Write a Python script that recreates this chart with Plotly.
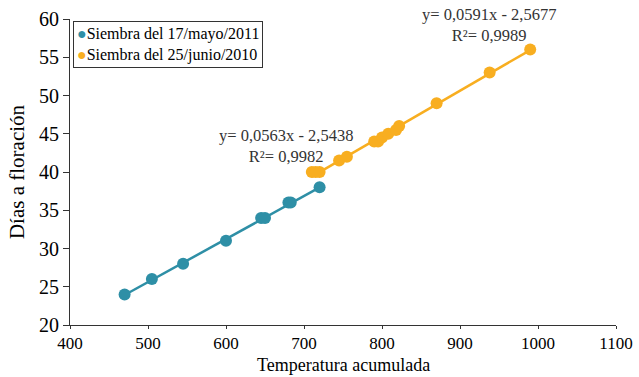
import plotly.graph_objects as go

# Data
x_2011 = [470, 505, 545, 600, 645, 650, 680, 683, 720]
y_2011 = [24, 26, 28, 31, 34, 34, 36, 36, 38]
x_2010 = [710, 715, 720, 745, 755, 790, 795, 800, 808, 818, 822, 870, 938, 990]
y_2010 = [40, 40, 40, 41.5, 42, 44, 44, 44.5, 45, 45.5, 46, 49, 53, 56]
fit_2011 = [0.0563, -2.5438]
fit_2010 = [0.0591, -2.5677]
names = ["Siembra del 17/mayo/2011", "Siembra del 25/junio/2010"]
eq_labels = ["y= 0,0563x - 2,5438<br>R²= 0,9982", "y= 0,0591x - 2,5677<br>R²= 0,9989"]
x_ticks = [400, 500, 600, 700, 800, 900, 1000, 1100]
y_ticks = [20, 25, 30, 35, 40, 45, 50, 55, 60]
x_title = "Temperatura acumulada"
y_title = "Días a floración"

c1 = "#2e8fa6"
c2 = "#f8ae20"
font = "Liberation Serif"

fig = go.Figure()
for xs, ys, fit, col, nm in [(x_2011, y_2011, fit_2011, c1, names[0]),
                             (x_2010, y_2010, fit_2010, c2, names[1])]:
    lx = [min(xs), max(xs)]
    ly = [fit[0] * v + fit[1] for v in lx]
    fig.add_trace(go.Scatter(x=lx, y=ly, mode="lines", line=dict(color=col, width=2.5),
                             showlegend=False, hoverinfo="skip"))
    fig.add_trace(go.Scatter(x=xs, y=ys, mode="markers", name=nm, showlegend=False,
                             marker=dict(color=col, size=12)))

# equation labels
fig.add_annotation(x=677, y=43.4, xref="x", yref="y", text=eq_labels[0], showarrow=False,
                   xanchor="center", yanchor="middle", font=dict(family=font, size=16.5, color="#333"),
                   align="center")
fig.add_annotation(x=937, y=59.2, xref="x", yref="y", text=eq_labels[1], showarrow=False,
                   xanchor="center", yanchor="middle", font=dict(family=font, size=16.5, color="#333"),
                   align="center")

# legend box
legend_text = (f"<span style='color:{c1}'>●</span>{names[0]}<br>"
               f"<span style='color:{c2}'>●</span>{names[1]}")
fig.add_annotation(x=0.006, y=0.993, xref="paper", yref="paper", text=legend_text,
                   showarrow=False, xanchor="left", yanchor="top", align="left",
                   font=dict(family=font, size=16, color="black"),
                   bordercolor="#333", borderwidth=1, borderpad=3, bgcolor="white")

# x axis title, anchored to the bottom edge of the figure
fig.add_annotation(x=0.5, y=0, xref="paper", yref="paper", text=x_title, showarrow=False,
                   xanchor="center", yanchor="bottom", yshift=-52,
                   font=dict(family=font, size=18, color="black"))

fig.update_layout(
    width=639, height=377,
    margin=dict(l=70, r=23, t=19, b=52),
    paper_bgcolor="white", plot_bgcolor="white",
    font=dict(family=font, color="black"),
    showlegend=False,
)
fig.update_xaxes(range=[400, 1100], tickvals=x_ticks, showgrid=False, zeroline=False,
                 showline=True, linecolor="#333", linewidth=1, ticks="outside", ticklen=3,
                 tickcolor="#333", tickfont=dict(size=17, family=font), automargin=False)
fig.update_yaxes(range=[20, 60], tickvals=y_ticks, showgrid=False, zeroline=False,
                 showline=True, linecolor="#333", linewidth=1, ticks="outside", ticklen=6,
                 tickcolor="#333", tickfont=dict(size=20, family=font), automargin=False,
                 title=dict(text=y_title, font=dict(size=21, family=font), standoff=8))

fig.write_html("out.html")
